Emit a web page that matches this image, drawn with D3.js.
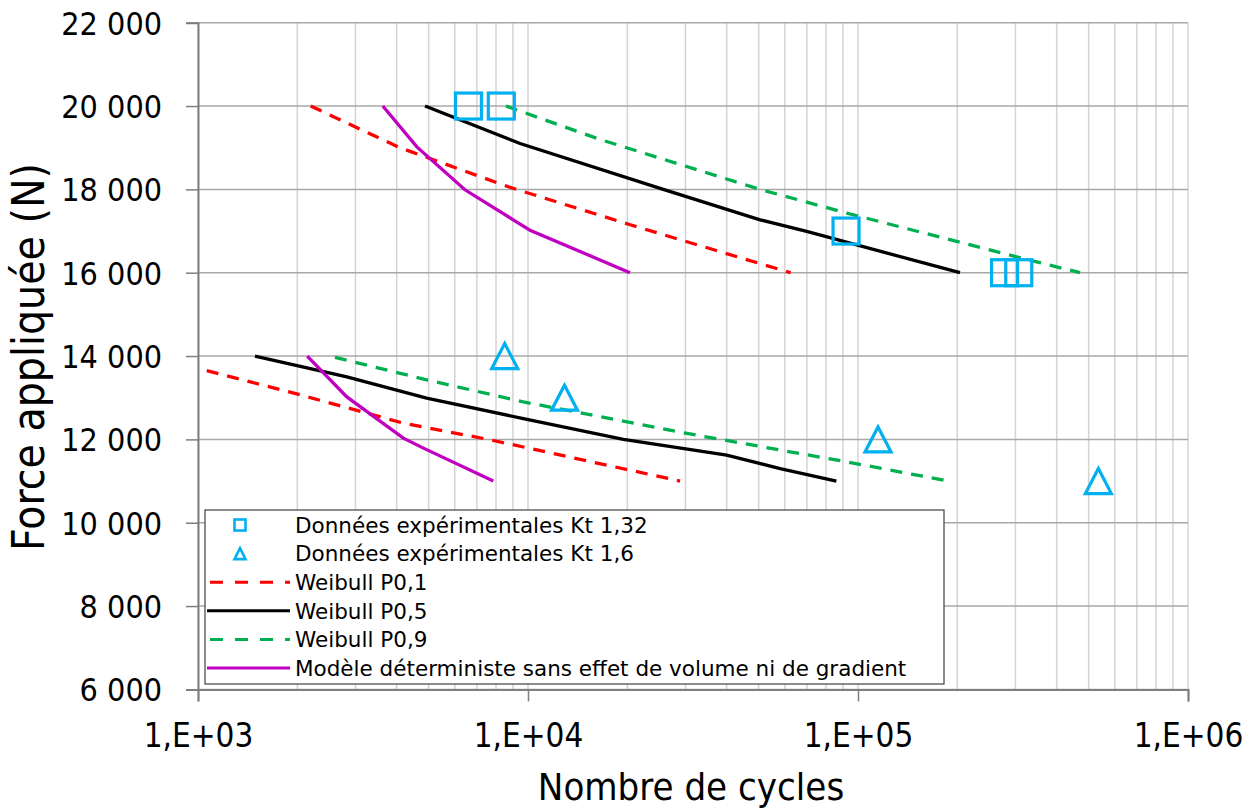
<!DOCTYPE html>
<html><head><meta charset="utf-8">
<script src="https://cdn.jsdelivr.net/npm/d3@7"></script>
<style>body{margin:0;background:#fff}svg{display:block}</style>
</head><body><svg id="c" width="1257" height="812"></svg>
<script>
// ---- data ----
const xTickValues = [1e3, 1e4, 1e5, 1e6];
const xTickLabels = ["1,E+03", "1,E+04", "1,E+05", "1,E+06"];
const yTickValues = [6000, 8000, 10000, 12000, 14000, 16000, 18000, 20000, 22000];
const yTickLabels = ["6 000", "8 000", "10 000", "12 000", "14 000", "16 000", "18 000", "20 000", "22 000"];

const squaresN = [6600, 8300, 92000, 278000, 307000];
const squaresF = [20000, 20000, 17000, 16000, 16000];
const trianglesN = [8500, 12900, 115000, 535000];
const trianglesF = [14000, 13000, 12000, 11000];

const w01UpperN = [2195, 4090, 8810, 20400, 62500];
const w01UpperF = [20000, 19000, 18050, 17150, 16000];
const w01LowerN = [1063, 2040, 4190, 7680, 28900];
const w01LowerF = [13650, 13070, 12390, 11990, 11000];

const w05UpperN = [4875, 9460, 25700, 50500, 69900, 203700];
const w05UpperF = [20000, 19100, 18000, 17270, 16990, 16000];
const w05LowerN = [1488, 2825, 4930, 9680, 19460, 40000, 58100, 86000];
const w05LowerF = [14000, 13500, 12990, 12500, 12000, 11620, 11300, 11000];

const w09UpperN = [8570, 16500, 50500, 92500, 289000, 471000];
const w09UpperF = [20000, 19200, 18000, 17430, 16420, 16000];
const w09LowerN = [2600, 4930, 9680, 30000, 92500, 188000];
const w09LowerF = [13970, 13430, 12900, 12150, 11460, 11000];

const modelUpperN = [3630, 4605, 6440, 9020, 10140, 20370];
const modelUpperF = [20000, 19020, 17990, 17270, 17020, 16000];
const modelLowerN = [2143, 2825, 4190, 4820, 7850];
const modelLowerF = [14000, 13020, 12030, 11790, 11000];

const legendLabels = [
  "Données expérimentales Kt 1,32",
  "Données expérimentales Kt 1,6",
  "Weibull P0,1",
  "Weibull P0,5",
  "Weibull P0,9",
  "Modèle déterministe sans effet de volume ni de gradient"
];

// ---- chart ----
const svg = d3.select("#c");
const L = 198, R = 1188, T = 22.7, B = 689.4;
const x = d3.scaleLog().domain([1e3, 1e6]).range([L, R]);
const y = d3.scaleLinear().domain([6000, 22000]).range([B, T]);

const blue = "#00b0f0", red = "#ff0000", green = "#00b050", mag = "#c000c0";
const condensed = "'DejaVu Sans Condensed', 'Liberation Sans Narrow', 'DejaVu Sans', sans-serif";
const normal = "'DejaVu Sans', Verdana, sans-serif";

// vertical grid (minor + decades)
const vTicks = [];
for (let e = 3; e < 6; e++) for (let m = 1; m < 10; m++) vTicks.push(m * Math.pow(10, e));
vTicks.push(1e6);
svg.append("g").selectAll("line").data(vTicks).join("line")
  .attr("x1", d => x(d)).attr("x2", d => x(d)).attr("y1", T).attr("y2", B)
  .attr("stroke", "#d4d4d4").attr("stroke-width", 1.5);
// horizontal grid
svg.append("g").selectAll("line").data(yTickValues).join("line")
  .attr("x1", L).attr("x2", R).attr("y1", d => y(d)).attr("y2", d => y(d))
  .attr("stroke", "#a8a8a8").attr("stroke-width", 1.5);

// axes
const yAxis = d3.axisLeft(y).tickValues(yTickValues).tickSize(12)
  .tickFormat((d, i) => yTickLabels[i]).tickPadding(24);
const gy = svg.append("g").attr("transform", `translate(${L},0)`).call(yAxis);
gy.select(".domain").attr("stroke", "#7f7f7f").attr("stroke-width", 2);
gy.selectAll(".tick line").attr("stroke", "#7f7f7f").attr("stroke-width", 1.5);
gy.selectAll(".tick text").attr("font-family", condensed)
  .attr("font-size", 32).attr("fill", "#000").attr("dy", "0.36em");

const xAxis = d3.axisBottom(x).tickValues(xTickValues).tickSize(12)
  .tickFormat((d, i) => xTickLabels[i]);
const gx = svg.append("g").attr("transform", `translate(0,${B})`).call(xAxis);
gx.select(".domain").attr("stroke", "#7f7f7f").attr("stroke-width", 2);
gx.selectAll(".tick line").attr("stroke", "#7f7f7f").attr("stroke-width", 1.5);
gx.selectAll(".tick text").attr("font-family", condensed)
  .attr("font-size", 33).attr("fill", "#000").attr("y", 58).attr("dy", 0);

// axis titles
svg.append("text").attr("x", 691).attr("y", 800)
  .attr("text-anchor", "middle").attr("font-family", condensed).attr("font-size", 38)
  .text("Nombre de cycles");
svg.append("text").attr("transform", `translate(44,357) rotate(-90)`)
  .attr("text-anchor", "middle").attr("font-family", condensed).attr("font-size", 44)
  .text("Force appliquée (N)");

// lines
const line = d3.line().x(d => x(d[0])).y(d => y(d[1]));
const zip = (a, b) => a.map((v, i) => [v, b[i]]);
const series = [
  {n: w01UpperN, f: w01UpperF, c: red, dash: "12,9"},
  {n: w01LowerN, f: w01LowerF, c: red, dash: "12,9"},
  {n: w05UpperN, f: w05UpperF, c: "#000", dash: null},
  {n: w05LowerN, f: w05LowerF, c: "#000", dash: null},
  {n: w09UpperN, f: w09UpperF, c: green, dash: "12,9"},
  {n: w09LowerN, f: w09LowerF, c: green, dash: "12,9"},
  {n: modelUpperN, f: modelUpperF, c: mag, dash: null},
  {n: modelLowerN, f: modelLowerF, c: mag, dash: null}
];
svg.append("g").selectAll("path").data(series).join("path")
  .attr("d", s => line(zip(s.n, s.f)))
  .attr("fill", "none").attr("stroke", s => s.c).attr("stroke-width", 3.3)
  .attr("stroke-dasharray", s => s.dash);

// markers
const sq = 26;
svg.append("g").selectAll("rect").data(zip(squaresN, squaresF)).join("rect")
  .attr("x", d => x(d[0]) - sq / 2).attr("y", d => y(d[1]) - sq / 2)
  .attr("width", sq).attr("height", sq)
  .attr("fill", "none").attr("stroke", blue).attr("stroke-width", 3.2);
const tri = (cx, cy, w, h) => `M${cx},${cy - h / 2}L${cx + w / 2},${cy + h / 2}L${cx - w / 2},${cy + h / 2}Z`;
svg.append("g").selectAll("path").data(zip(trianglesN, trianglesF)).join("path")
  .attr("d", d => tri(x(d[0]), y(d[1]), 26, 25))
  .attr("fill", "none").attr("stroke", blue).attr("stroke-width", 3.2).attr("stroke-linejoin", "miter");

// legend
const lg = svg.append("g");
lg.append("rect").attr("x", 205).attr("y", 510).attr("width", 739).attr("height", 174)
  .attr("fill", "#fff").attr("stroke", "#404040").attr("stroke-width", 1.2);
const rowY = i => 525 + i * 28.6;
lg.selectAll("text").data(legendLabels).join("text")
  .attr("x", 295).attr("y", (d, i) => rowY(i)).attr("dy", "0.36em")
  .attr("font-family", normal).attr("font-size", 21.5).attr("fill", "#000")
  .text(d => d);
lg.append("rect").attr("x", 240 - 5.5).attr("y", rowY(0) - 5.5).attr("width", 11).attr("height", 11)
  .attr("fill", "none").attr("stroke", blue).attr("stroke-width", 2.6);
lg.append("path").attr("d", tri(240, rowY(1), 11, 11))
  .attr("fill", "none").attr("stroke", blue).attr("stroke-width", 2.6);
const legLines = [{c: red, dash: "13,12"}, {c: "#000", dash: null}, {c: green, dash: "13,12"}, {c: mag, dash: null}];
lg.selectAll("line.l").data(legLines).join("line").attr("class", "l")
  .attr("x1", d => d.dash ? 210 : 207).attr("x2", 290)
  .attr("y1", (d, i) => rowY(i + 2)).attr("y2", (d, i) => rowY(i + 2))
  .attr("stroke", d => d.c).attr("stroke-width", 3).attr("stroke-dasharray", d => d.dash);
</script></body></html>
